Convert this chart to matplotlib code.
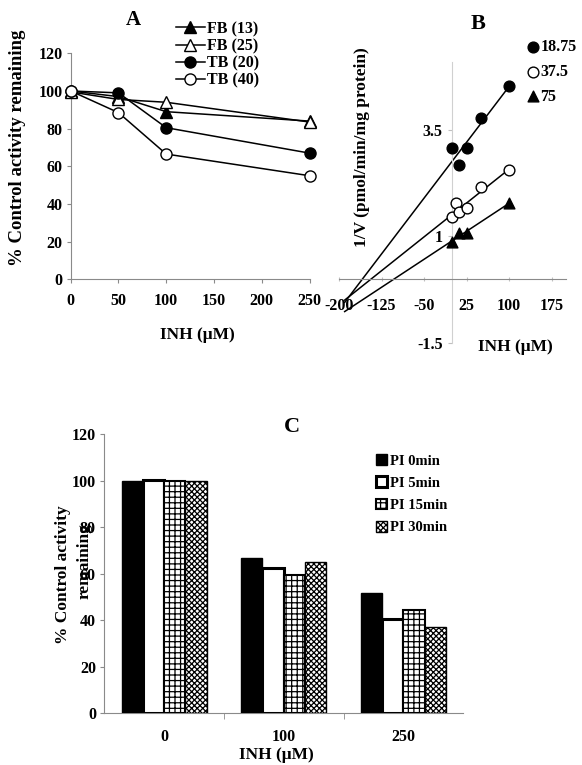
import matplotlib
matplotlib.use('Agg')
import matplotlib.pyplot as plt
import numpy as np
from matplotlib.patches import Patch

plt.rcParams['font.family'] = ['Liberation Serif', 'DejaVu Serif']
plt.rcParams['font.weight'] = 'bold'
plt.rcParams['hatch.linewidth'] = 0.9
plt.rcParams['axes.unicode_minus'] = False

# ---------------- data ----------------
# Panel A
a_conc = [0, 50, 100, 250]
a_labels = ['FB (13)', 'FB (25)', 'TB (20)', 'TB (40)']
a_fb13 = [100, 97, 89, 84]
a_fb25 = [99.5, 95.5, 94, 83.5]
a_tb20 = [100, 99, 80.5, 67]
a_tb40 = [100, 88.5, 66.5, 55]
a_xticks = [0, 50, 100, 150, 200, 250]
a_yticks = [0, 20, 40, 60, 80, 100, 120]

# Panel B (Dixon plot)
b_labels = ['18.75', '37.5', '75']
b_x_1875 = [0, 12.5, 25, 50, 100]
b_y_1875 = [3.09, 2.68, 3.09, 3.78, 4.54]
b_x_375 = [0, 6.25, 12.5, 25, 50, 100]
b_y_375 = [1.45, 1.78, 1.58, 1.66, 2.16, 2.56]
b_x_75 = [0, 12.5, 25, 100]
b_y_75 = [0.86, 1.09, 1.09, 1.78]
b_xticks = [-200, -125, -50, 25, 100, 175]
b_yticks = [-1.5, 1, 3.5]
b_ytick_labels = ['-1.5', '1', '3.5']
b_line_start = -190

# Panel C
c_groups = ['0', '100', '250']
c_series = ['PI 0min', 'PI 5min', 'PI 15min', 'PI 30min']
c_pi0 = [100, 66.9, 51.6]
c_pi5 = [100.3, 62.6, 40.5]
c_pi15 = [100, 59.3, 44.4]
c_pi30 = [100, 65.2, 37]
c_yticks = [0, 20, 40, 60, 80, 100, 120]

W, H = 582, 765
fig = plt.figure(figsize=(W / 100, H / 100), dpi=100)


def px_axes(x0, x1, ytop, ybot):
    return fig.add_axes([x0 / W, 1 - ybot / H, (x1 - x0) / W, (ybot - ytop) / H])


def fx(x):
    return x / W


def fy(y):
    return 1 - y / H


SP = '#8a8a8a'
FS = 11.5

# ---------------- Panel A ----------------
axA = px_axes(70.7, 309.5, 53.3, 279.3)
styles = [('^', 'black'), ('^', 'white'), ('o', 'black'), ('o', 'white')]
series = [a_fb13, a_fb25, a_tb20, a_tb40]
handles = []
for (m, fc), ys, lab in zip(styles, series, a_labels):
    ln, = axA.plot(a_conc, ys, color='black', lw=1.1, marker=m, ms=8,
                   mfc=fc, mec='black', mew=1.0, clip_on=False, zorder=3, label=lab)
    handles.append(ln)
axA.set_xlim(0, 250)
axA.set_ylim(0, 120)
axA.set_xticks(a_xticks)
axA.set_yticks(a_yticks)
for s in ['top', 'right']:
    axA.spines[s].set_visible(False)
for s in ['left', 'bottom']:
    axA.spines[s].set_color(SP)
    axA.spines[s].set_linewidth(0.8)
axA.tick_params(axis='both', colors=SP, labelcolor='black', labelsize=FS, length=3, width=0.8)
axA.tick_params(axis='x', pad=7)
axA.tick_params(axis='y', pad=3)
fig.text(fx(18), fy(148), '% Control activity remaining', rotation=90, ha='center', va='center', fontsize=13.5)
fig.text(fx(197), fy(335), 'INH (\u03bcM)', ha='center', va='center', fontsize=12.5)
fig.text(fx(133), fy(20), 'A', ha='center', va='center', fontsize=15)
fig.legend(handles=handles, loc='upper left', bbox_to_anchor=(fx(168), fy(13)), frameon=False,
           fontsize=FS, handlelength=1.8, handletextpad=0.12, labelspacing=0.08, borderpad=0)

# ---------------- Panel B ----------------
b_ytop, b_ybot = -1.5, 5.1
b_px_per = 42.5
b_y0 = 279
axB = px_axes(339, 565.8, b_y0 - b_ybot * b_px_per, b_y0 - b_ytop * b_px_per)
axB.set_xlim(-200, 200)
axB.set_ylim(b_ytop, b_ybot)
bdata = [(b_x_1875, b_y_1875, 'o', 'black'), (b_x_375, b_y_375, 'o', 'white'), (b_x_75, b_y_75, '^', 'black')]
bhandles = []
for (xs, ys, m, fc), lab in zip(bdata, b_labels):
    k, b = np.polyfit(xs, ys, 1)
    xl = np.array([b_line_start, max(xs)])
    axB.plot(xl, k * xl + b, color='black', lw=1.1, zorder=2, clip_on=False)
    h = axB.scatter(xs, ys, marker=m, s=60, facecolor=fc, edgecolor='black', linewidth=1.0, zorder=3,
                    label=lab, clip_on=False)
    bhandles.append(h)
axB.spines['left'].set_position(('data', 0))
axB.spines['bottom'].set_position(('data', 0))
for s in ['top', 'right']:
    axB.spines[s].set_visible(False)
axB.spines['left'].set_color('#d0d0d0')
axB.spines['bottom'].set_color(SP)
axB.spines['left'].set_linewidth(0.8)
axB.spines['bottom'].set_linewidth(0.8)
axB.set_xticks(b_xticks)
axB.set_yticks(b_yticks)
axB.set_yticklabels(b_ytick_labels)
axB.tick_params(axis='both', colors='#c0c0c0', labelcolor='black', labelsize=FS, length=3, width=0.8)
axB.tick_params(axis='x', pad=12, direction='inout')
axB.tick_params(axis='y', pad=4)
fig.text(fx(362), fy(147), '1/V (pmol/min/mg protein)', rotation=90, ha='center', va='center', fontsize=12.5)
fig.text(fx(515), fy(347), 'INH (\u03bcM)', ha='center', va='center', fontsize=12.5)
fig.text(fx(478), fy(24), 'B', ha='center', va='center', fontsize=16)
fig.legend(handles=bhandles, loc='upper left', bbox_to_anchor=(fx(519), fy(31)), frameon=False,
           fontsize=FS, handlelength=0.8, handletextpad=0.05, labelspacing=0.55, borderpad=0, scatterpoints=1)

# ---------------- Panel C ----------------
axC = px_axes(104.3, 463.3, 434.3, 713.3)
x = np.arange(len(c_groups))
w = 0.178
cstyle = [dict(facecolor='black', edgecolor='black', linewidth=1.0),
          dict(facecolor='white', edgecolor='black', linewidth=2.2),
          dict(facecolor='white', edgecolor='black', linewidth=1.5, hatch='+++'),
          dict(facecolor='white', edgecolor='black', linewidth=1.0, hatch='xxxxxx')]
cvals = [c_pi0, c_pi5, c_pi15, c_pi30]
chandles = []
for i, (vals, st, lab) in enumerate(zip(cvals, cstyle, c_series)):
    axC.bar(x + (i - 1.5) * w, vals, width=w, zorder=3, **st)
    chandles.append(Patch(label=lab, **st))
axC.set_xlim(-0.5, 2.5)
axC.set_ylim(0, 120)
axC.set_yticks(c_yticks)
axC.set_xticks(x)
axC.set_xticklabels(c_groups)
axC.set_xticks([0.5, 1.5], minor=True)
for s in ['top', 'right']:
    axC.spines[s].set_visible(False)
for s in ['left', 'bottom']:
    axC.spines[s].set_color(SP)
    axC.spines[s].set_linewidth(0.8)
axC.tick_params(axis='x', which='major', length=0, pad=11, labelsize=FS)
axC.tick_params(axis='x', which='minor', length=4, colors=SP)
axC.tick_params(axis='y', colors=SP, labelcolor='black', labelsize=FS, length=3, width=0.8, pad=3)
fig.text(fx(63), fy(575), '% Control activity', rotation=90, ha='center', va='center', fontsize=12.5)
fig.text(fx(85), fy(561), 'remaining', rotation=90, ha='center', va='center', fontsize=12.5)
fig.text(fx(276), fy(755), 'INH (\u03bcM)', ha='center', va='center', fontsize=12.5)
fig.text(fx(292), fy(427), 'C', ha='center', va='center', fontsize=16)
fig.legend(handles=chandles, loc='upper left', bbox_to_anchor=(fx(369), fy(447)), frameon=False,
           fontsize=10.5, handlelength=0.75, handleheight=0.75, handletextpad=0.2, labelspacing=0.6, borderpad=0)

fig.savefig('out.png', dpi=100)
